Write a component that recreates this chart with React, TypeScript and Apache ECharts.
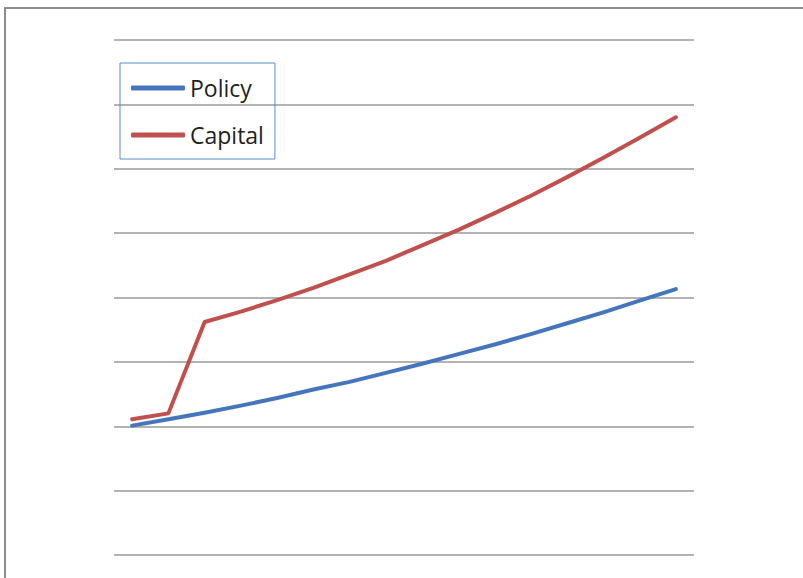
import React, { useEffect, useRef } from "react";
import * as echarts from "echarts";

const categories = ["1", "2", "3", "4", "5", "6", "7", "8", "9", "10", "11", "12", "13", "14", "15", "16"];
const policy = [201, 211, 221, 232, 244, 257, 269, 283, 297, 312, 327, 343, 360, 377, 395, 413];
const capital = [211, 220, 362, 378, 396, 415, 436, 457, 481, 505, 531, 558, 587, 617, 648, 680];
const yTicks = { min: 0, max: 800, interval: 100 };

export default function App() {
  const ref = useRef<HTMLDivElement>(null);
  useEffect(() => {
    if (!ref.current) return;
    const chart = echarts.init(ref.current, null, { renderer: "svg" });
    chart.setOption({
      animation: false,
      backgroundColor: "#ffffff",
      graphic: [
        {
          type: "rect",
          z: -10,
          silent: true,
          shape: { x: 5, y: 8, width: 900, height: 700 },
          style: { fill: "none", stroke: "#8c8c8c", lineWidth: 2 },
        },
      ],
      grid: { left: 114, right: 109, top: 40, bottom: 23 },
      legend: {
        orient: "vertical",
        left: 120,
        top: 63,
        padding: [13, 11, 12, 11],
        itemGap: 23,
        itemWidth: 54,
        itemHeight: 5,
        icon: "roundRect",
        borderColor: "#5B8BD0",
        borderWidth: 1,
        textStyle: { fontFamily: "Open Sans", fontSize: 23, color: "#1f1f1f", lineHeight: 24 },
        data: ["Policy", "Capital"],
      },
      xAxis: {
        type: "category",
        data: categories,
        boundaryGap: true,
        axisLine: { show: false },
        axisTick: { show: false },
        axisLabel: { show: false },
        splitLine: { show: false },
      },
      yAxis: {
        type: "value",
        min: yTicks.min,
        max: yTicks.max,
        interval: yTicks.interval,
        axisLine: { show: false },
        axisTick: { show: false },
        axisLabel: { show: false },
        splitLine: { lineStyle: { color: "#b3b3b3", width: 2 } },
      },
      series: [
        {
          name: "Policy",
          type: "line",
          data: policy,
          showSymbol: false,
          color: "#4576BD",
          lineStyle: { width: 4, color: "#4576BD", cap: "round", join: "round" },
          emphasis: { disabled: true },
        },
        {
          name: "Capital",
          type: "line",
          data: capital,
          showSymbol: false,
          color: "#C0504D",
          lineStyle: { width: 4, color: "#C0504D", cap: "round", join: "round" },
          emphasis: { disabled: true },
        },
      ],
    });
    return () => chart.dispose();
  }, []);
  return (
    <div
      ref={ref}
      style={{ position: "fixed", left: 0, top: 0, width: 803, height: 578 }}
    />
  );
}
